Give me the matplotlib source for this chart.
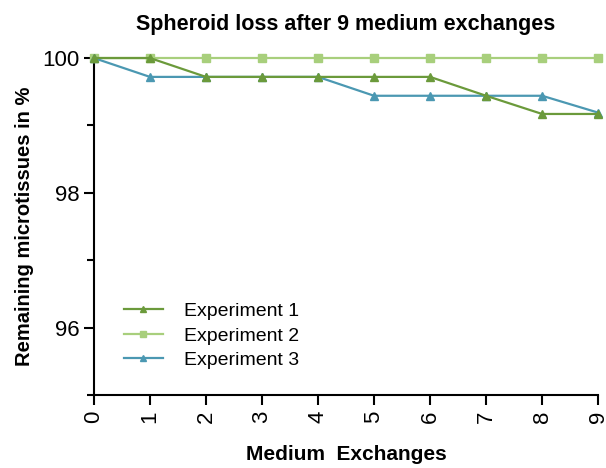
import matplotlib
matplotlib.use("Agg")
import matplotlib.pyplot as plt
from matplotlib.ticker import MultipleLocator

plt.rcParams['font.family'] = ['Liberation Sans', 'DejaVu Sans']

exchanges = [0, 1, 2, 3, 4, 5, 6, 7, 8, 9]
exp1 = [100, 100, 99.72, 99.72, 99.72, 99.72, 99.72, 99.44, 99.17, 99.17]
exp2 = [100, 100, 100, 100, 100, 100, 100, 100, 100, 100]
exp3 = [100, 99.72, 99.72, 99.72, 99.72, 99.44, 99.44, 99.44, 99.44, 99.19]
labels = ["Experiment 1", "Experiment 2", "Experiment 3"]
colors = ["#6b9a3b", "#a8cf7c", "#4b98b2"]

fig = plt.figure(figsize=(6.06, 4.68), dpi=100)
ax = fig.add_axes([0.155, 0.156, 0.832, 0.720])

ax.plot(exchanges, exp2, color=colors[1], marker='s', markersize=6, lw=1.6, label=labels[1], clip_on=False, zorder=3)
ax.plot(exchanges, exp3, color=colors[2], marker='^', markersize=6, lw=1.6, label=labels[2], clip_on=False, zorder=4)
ax.plot(exchanges, exp1, color=colors[0], marker='^', markersize=6, lw=1.6, label=labels[0], clip_on=False, zorder=5)

ax.set_xlim(0, 9)
ax.set_ylim(95, 100)
ax.set_xticks(exchanges)
ax.set_xticklabels([str(e) for e in exchanges], rotation=90, fontsize=16)
ax.set_yticks([96, 98, 100])
ax.set_yticklabels(["96", "98", "100"], fontsize=16)
ax.yaxis.set_minor_locator(MultipleLocator(1))
ax.tick_params(axis='both', which='major', length=7, width=1.5)
ax.tick_params(axis='y', which='minor', length=5, width=1.5)
ax.tick_params(axis='x', pad=4)
for s in ['top', 'right']:
    ax.spines[s].set_visible(False)
for s in ['left', 'bottom']:
    ax.spines[s].set_linewidth(1.5)

ax.set_title("Spheroid loss after 9 medium exchanges", fontsize=15.5, fontweight='bold', pad=20)
ax.set_xlabel("Medium  Exchanges", fontsize=15, fontweight='bold', labelpad=16)
ax.set_ylabel("Remaining microtissues in %", fontsize=14.5, fontweight='bold', labelpad=6)

h, l = ax.get_legend_handles_labels()
order = [2, 0, 1]
leg = ax.legend([h[i] for i in order], [l[i] for i in order], loc='lower left',
                bbox_to_anchor=(0.025, 0.025), frameon=False, fontsize=14,
                handlelength=2.0, handletextpad=1.1, labelspacing=0.35, markerscale=0.8)

fig.savefig("out.png", dpi=100)
